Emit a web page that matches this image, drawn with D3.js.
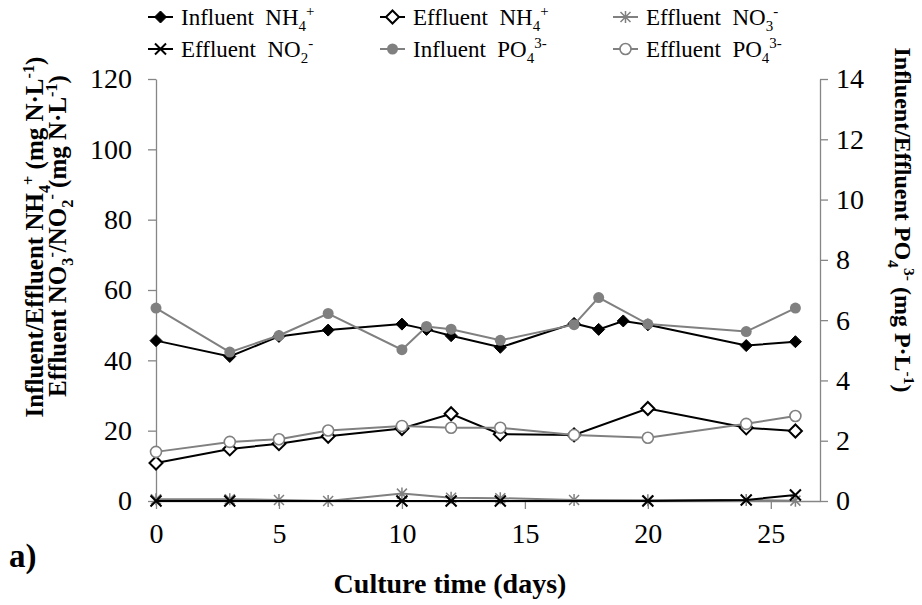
<!DOCTYPE html>
<html>
<head>
<meta charset="utf-8">
<script src="https://cdn.jsdelivr.net/npm/d3@7"></script>
<style>
  body { margin: 0; background: #fff; }
  svg { display: block; font-family: "Liberation Serif", "Times New Roman", serif; }
</style>
</head>
<body>
<svg id="chart" width="922" height="605"></svg>
<script>
// 数据 (days / values)
var daysInfNH4 = [0, 3, 5, 7, 10, 11, 12, 14, 17, 18, 19, 20, 24, 26];
var infNH4     = [45.6, 41.1, 46.8, 48.6, 50.3, 48.8, 47.0, 43.7, 50.5, 48.8, 51.2, 50.1, 44.2, 45.3];

var daysEffNH4 = [0, 3, 5, 7, 10, 12, 14, 17, 20, 24, 26];
var effNH4     = [10.8, 14.8, 16.3, 18.4, 20.6, 24.8, 19.0, 18.8, 26.3, 20.8, 19.9];

var daysNO3 = [0, 3, 5, 7, 10, 12, 14, 17, 20, 24, 26];
var effNO3  = [0.5, 0.5, 0.3, 0.0, 2.1, 0.9, 0.8, 0.3, 0.2, 0.3, 0.1];

var daysNO2 = [0, 3, 10, 12, 14, 20, 24, 26];
var effNO2  = [0.0, 0.0, 0.0, 0.0, 0.0, 0.0, 0.3, 1.7];

var daysInfPO4 = [0, 3, 5, 7, 10, 11, 12, 14, 17, 18, 20, 24, 26];
var infPO4     = [6.40, 4.94, 5.49, 6.22, 5.02, 5.79, 5.70, 5.33, 5.85, 6.75, 5.87, 5.62, 6.40];

var daysEffPO4 = [0, 3, 5, 7, 10, 12, 14, 17, 20, 24, 26];
var effPO4     = [1.63, 1.96, 2.05, 2.34, 2.49, 2.43, 2.43, 2.19, 2.10, 2.56, 2.82];

var xTicks = [0, 5, 10, 15, 20, 25];
var yLeftTicks = [0, 20, 40, 60, 80, 100, 120];
var yRightTicks = [0, 2, 4, 6, 8, 10, 12, 14];

var svg = d3.select('#chart');
// 绘图区边界 (避免使用 window.top 等全局名)
var plotL = 156, plotR = 820, plotT = 79, plotB = 501;
var axisColor = '#868686';
var gray = '#808080';

var x = d3.scaleLinear().domain([0, 27]).range([plotL, plotR]);
var yL = d3.scaleLinear().domain([0, 120]).range([plotB, plotT]);
var yR = d3.scaleLinear().domain([0, 14]).range([plotB, plotT]);

// 坐标轴
function styleAxis(g) {
	g.select('.domain').attr('stroke', axisColor).attr('stroke-width', 1.3);
	g.selectAll('.tick line').attr('stroke', axisColor).attr('stroke-width', 1.3);
	g.selectAll('.tick text').attr('fill', '#000')
		.style('font-family', '"Liberation Serif", serif').style('font-size', '28px');
}

svg.append('g').attr('transform', 'translate(0,' + plotB + ')')
	.call(d3.axisBottom(x).tickValues(xTicks).tickSize(8).tickPadding(14).tickSizeOuter(0))
	.call(styleAxis);
svg.append('g').attr('transform', 'translate(' + plotL + ',0)')
	.call(d3.axisLeft(yL).tickValues(yLeftTicks).tickSize(8).tickPadding(16).tickSizeOuter(0))
	.call(styleAxis);
svg.append('g').attr('transform', 'translate(' + plotR + ',0)')
	.call(d3.axisRight(yR).tickValues(yRightTicks).tickSize(8).tickPadding(8).tickSizeOuter(0))
	.call(styleAxis);

// 带上下标的文字
function richText(el, parts, size) {
	var cur = 0;
	parts.forEach(function(p) {
		var shift = p.sub ? size * 0.28 : (p.sup ? -size * 0.38 : 0);
		el.append('tspan')
			.attr('dy', shift - cur)
			.style('font-size', (p.sub || p.sup ? size * 0.65 : size) + 'px')
			.text(p.t);
		cur = shift;
	});
	return el;
}

// 数据系列
var series = [
	{days: daysInfNH4, vals: infNH4, scale: yL, color: '#000', marker: 'diamondFilled'},
	{days: daysEffNH4, vals: effNH4, scale: yL, color: '#000', marker: 'diamondOpen'},
	{days: daysNO3, vals: effNO3, scale: yL, color: gray, marker: 'star'},
	{days: daysNO2, vals: effNO2, scale: yL, color: '#000', marker: 'cross'},
	{days: daysInfPO4, vals: infPO4, scale: yR, color: gray, marker: 'circleFilled'},
	{days: daysEffPO4, vals: effPO4, scale: yR, color: gray, marker: 'circleOpen'}
];

function drawMarker(g, type, cx, cy, color) {
	if (type === 'diamondFilled') {
		g.append('path').attr('d', 'M' + cx + ',' + (cy - 6) + 'L' + (cx + 6) + ',' + cy + 'L' + cx + ',' + (cy + 6) + 'L' + (cx - 6) + ',' + cy + 'Z')
			.attr('fill', color).attr('stroke', color).attr('stroke-width', 1);
	} else if (type === 'diamondOpen') {
		g.append('path').attr('d', 'M' + cx + ',' + (cy - 6.5) + 'L' + (cx + 6.5) + ',' + cy + 'L' + cx + ',' + (cy + 6.5) + 'L' + (cx - 6.5) + ',' + cy + 'Z')
			.attr('fill', '#fff').attr('stroke', color).attr('stroke-width', 2);
	} else if (type === 'star') {
		var s = 5;
		g.append('path').attr('d', 'M' + (cx - s) + ',' + (cy - s) + 'L' + (cx + s) + ',' + (cy + s) + 'M' + (cx + s) + ',' + (cy - s) + 'L' + (cx - s) + ',' + (cy + s) + 'M' + cx + ',' + (cy - s - 1) + 'L' + cx + ',' + (cy + s + 1))
			.attr('stroke', color).attr('stroke-width', 1.5).attr('fill', 'none');
	} else if (type === 'cross') {
		var c = 5.5;
		g.append('path').attr('d', 'M' + (cx - c) + ',' + (cy - c) + 'L' + (cx + c) + ',' + (cy + c) + 'M' + (cx + c) + ',' + (cy - c) + 'L' + (cx - c) + ',' + (cy + c))
			.attr('stroke', color).attr('stroke-width', 2).attr('fill', 'none');
	} else if (type === 'circleFilled') {
		g.append('circle').attr('cx', cx).attr('cy', cy).attr('r', 5.5).attr('fill', color);
	} else if (type === 'circleOpen') {
		g.append('circle').attr('cx', cx).attr('cy', cy).attr('r', 5.5).attr('fill', '#fff')
			.attr('stroke', color).attr('stroke-width', 1.6);
	}
}

series.forEach(function(s) {
	var pts = s.days.map(function(d, i) { return [x(d), s.scale(s.vals[i])]; });
	var g = svg.append('g');
	g.append('path')
		.attr('d', d3.line()(pts))
		.attr('fill', 'none')
		.attr('stroke', s.color)
		.attr('stroke-width', 2);
	pts.forEach(function(p) { drawMarker(g, s.marker, p[0], p[1], s.color); });
});

// 图例
var legendItems = [
	{col: 0, row: 0, s: 0, parts: [{t: 'Influent\u00a0\u00a0NH'}, {t: '4', sub: true}, {t: '+', sup: true}]},
	{col: 1, row: 0, s: 1, parts: [{t: 'Effluent\u00a0\u00a0NH'}, {t: '4', sub: true}, {t: '+', sup: true}]},
	{col: 2, row: 0, s: 2, parts: [{t: 'Effluent\u00a0\u00a0NO'}, {t: '3', sub: true}, {t: '-', sup: true}]},
	{col: 0, row: 1, s: 3, parts: [{t: 'Effluent\u00a0\u00a0NO'}, {t: '2', sub: true}, {t: '-', sup: true}]},
	{col: 1, row: 1, s: 4, parts: [{t: 'Influent\u00a0\u00a0PO'}, {t: '4', sub: true}, {t: '3-', sup: true}]},
	{col: 2, row: 1, s: 5, parts: [{t: 'Effluent\u00a0\u00a0PO'}, {t: '4', sub: true}, {t: '3-', sup: true}]}
];
var colX = [148, 380, 613];
var rowY = [17, 49];
legendItems.forEach(function(it) {
	var s = series[it.s];
	var lx = colX[it.col], ly = rowY[it.row];
	var g = svg.append('g');
	g.append('line').attr('x1', lx).attr('x2', lx + 25).attr('y1', ly).attr('y2', ly)
		.attr('stroke', s.color).attr('stroke-width', 2);
	drawMarker(g, s.marker, lx + 12.5, ly, s.color);
	var t = g.append('text').attr('x', lx + 33).attr('y', ly + 8).style('font-size', '23px');
	richText(t, it.parts, 23);
});

// 坐标轴标题
var tl1 = svg.append('text').attr('transform', 'translate(43,237) rotate(-90)')
	.attr('text-anchor', 'middle').style('font-weight', 'bold').style('font-size', '25px');
richText(tl1, [{t: 'Influent/Effluent NH'}, {t: '4', sub: true}, {t: '+', sup: true}, {t: ' (mg N\u00b7L'}, {t: '-1', sup: true}, {t: ')'}], 25);
var tl2 = svg.append('text').attr('transform', 'translate(66,236) rotate(-90)')
	.attr('text-anchor', 'middle').style('font-weight', 'bold').style('font-size', '25px');
richText(tl2, [{t: 'Effluent NO'}, {t: '3', sub: true}, {t: '-', sup: true}, {t: '/NO'}, {t: '2', sub: true}, {t: '-', sup: true}, {t: ' (mg N\u00b7L'}, {t: '-1', sup: true}, {t: ')'}], 25);
var tr = svg.append('text').attr('transform', 'translate(895,220) rotate(90)')
	.attr('text-anchor', 'middle').style('font-weight', 'bold').style('font-size', '24px');
richText(tr, [{t: 'Influent/Effluent PO'}, {t: '4', sub: true}, {t: '3-', sup: true}, {t: ' (mg P\u00b7L'}, {t: '-1', sup: true}, {t: ')'}], 24);

svg.append('text').attr('x', 450).attr('y', 593).attr('text-anchor', 'middle')
	.style('font-weight', 'bold').style('font-size', '28px').text('Culture time (days)');
svg.append('text').attr('x', 9).attr('y', 567)
	.style('font-weight', 'bold').style('font-size', '33px').text('a)');
</script>
</body>
</html>
